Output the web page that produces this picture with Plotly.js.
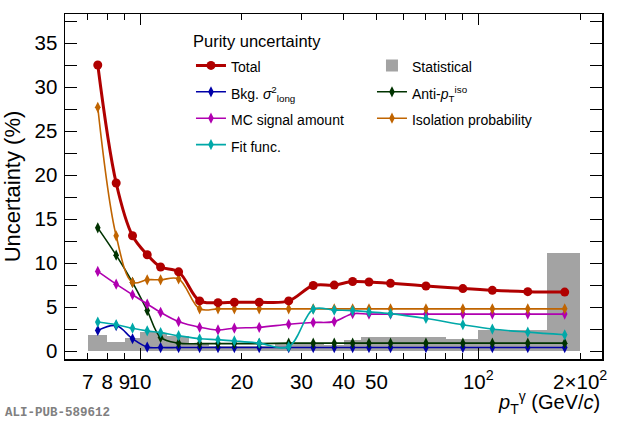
<!DOCTYPE html>
<html>
<head>
<meta charset="utf-8">
<script src="https://cdn.plot.ly/plotly-3.0.1.min.js"></script>
<style>
  body { margin: 0; background: #fff; }
  #main { width: 620px; height: 425px; }
</style>
</head>
<body>
<div id="main"></div>
<script>
// pT bin centres (GeV/c) of the purity uncertainty points
const ptCenters = [7.5, 8.5, 9.5, 10.5, 11.5, 13, 15, 17, 19, 22.5, 27.5, 32.5, 37.5, 42.5, 47.5, 55, 70, 90, 110, 140, 180]

// uncertainties in %
const total = [32.5, 19.1, 13.1, 10.95, 9.55, 9.0, 5.7, 5.5, 5.55, 5.55, 5.7, 7.45, 7.5, 7.9, 7.85, 7.7, 7.4, 7.1, 6.9, 6.75, 6.7]
const bkgSigma = [2.35, 2.9, 1.4, 0.45, 0.4, 0.4, 0.4, 0.4, 0.4, 0.4, 0.4, 0.4, 0.4, 0.4, 0.4, 0.4, 0.4, 0.4, 0.4, 0.4, 0.4]
const antiIso = [14.0, 10.9, 7.8, 4.6, 1.55, 0.9, 0.85, 0.85, 0.85, 0.85, 0.9, 0.9, 0.9, 0.9, 0.9, 0.9, 0.9, 0.9, 0.9, 0.9, 0.9]
const mcSignal = [9.05, 7.6, 6.4, 5.35, 4.4, 3.35, 2.7, 2.4, 2.6, 2.7, 3.05, 3.25, 3.35, 4.25, 4.2, 4.2, 4.2, 4.2, 4.2, 4.2, 4.2]
const isoProb = [27.7, 13.1, 7.8, 8.1, 8.1, 8.2, 4.8, 4.8, 4.8, 4.8, 4.8, 4.8, 4.8, 4.8, 4.8, 4.8, 4.8, 4.8, 4.8, 4.8, 4.8]
const fitFunc = [3.3, 3.0, 2.6, 2.3, 2.1, 1.75, 1.4, 1.3, 1.15, 0.9, 0.5, 4.75, 4.65, 4.6, 4.45, 4.25, 3.7, 3.0, 2.5, 2.15, 1.85]

// statistical uncertainty histogram (bin edges + contents)
const statEdges = [7, 8, 9, 10, 11.5, 12, 14, 16, 20, 25, 30, 35, 40, 45, 60, 80, 100, 160, 200]
const statValues = [1.85, 1.0, 1.45, 2.2, 2.0, 1.7, 0.9, 0.6, 0.6, 0.8, 0.8, 0.7, 1.3, 1.55, 1.6, 1.35, 2.4, 11.2]

// axis ticks
const xTickVals = [7, 8, 9, 10, 20, 30, 40, 50, 100, 200]
const xTickText = ['7', '8', '9', '10', '20', '30', '40', '50', '10<sup>2</sup>', '2\u00d710<sup>2</sup>']
const xMinorTicks = [60, 70, 80, 90]
const xLongTicks = [10, 100]

const FONT = 'Liberation Sans, Arial, Helvetica, sans-serif'
const LEG = (s) => '<span style="font-size:14px">' + s + '</span>'

const statCenters = []
const statWidths = []
statValues.forEach((v, i) => {
  statCenters.push((statEdges[i] + statEdges[i + 1]) / 2)
  statWidths.push(statEdges[i + 1] - statEdges[i])
})

const plotData = []

plotData.push({
  x: statCenters,
  y: statValues,
  width: statWidths,
  type: 'bar',
  name: LEG('Statistical'),
  marker: { color: '#a3a3a3', line: { width: 0 } },
  legendrank: 2,
  hoverinfo: 'skip',
})

const pushLine = (name, ys, color, rank, opts) => {
  plotData.push(Object.assign({
    x: ptCenters,
    y: ys,
    type: 'scatter',
    mode: 'lines+markers',
    name: LEG(name),
    line: { color: color, width: 1.6, shape: 'spline', smoothing: 1 },
    marker: { color: color, symbol: 'diamond-tall', size: 8 },
    legendrank: rank,
  }, opts || {}))
}

pushLine('Bkg. <i>\u03c3</i><sup>2</sup><sub>long</sub>', bkgSigma, '#0000a8', 3)
pushLine('Anti-<i>p</i><sub>T</sub><sup>iso</sup>', antiIso, '#003300', 4)
pushLine('MC signal amount', mcSignal, '#b000b0', 5)
pushLine('Isolation probability', isoProb, '#c06400', 6)
pushLine('Fit func.', fitFunc, '#00a8a8', 7)
pushLine('Total', total, '#b00000', 1, {
  line: { color: '#b00000', width: 3, shape: 'spline', smoothing: 1 },
  marker: { color: '#b00000', symbol: 'circle', size: 9 },
})

// dummy trace on overlaying axis for the long decade ticks
plotData.push({
  x: xLongTicks,
  y: [0, 0],
  xaxis: 'x2',
  type: 'scatter',
  mode: 'none',
  showlegend: false,
  hoverinfo: 'skip',
})

const xRange = [Math.log10(6.0), Math.log10(232)]

Plotly.newPlot('main', plotData, {
  width: 620,
  height: 425,
  margin: { l: 65, r: 18, t: 14, b: 66 },
  paper_bgcolor: '#fff',
  plot_bgcolor: '#fff',
  font: { family: FONT, color: '#000', size: 20 },
  bargap: 0,
  showlegend: true,
  xaxis: {
    type: 'log',
    range: xRange,
    tickmode: 'array',
    tickvals: xTickVals,
    ticktext: xTickText,
    tickangle: 0,
    ticks: 'inside',
    ticklen: 6,
    tickwidth: 1,
    tickcolor: '#000',
    ticklabelstandoff: 4,
    minor: { tickmode: 'array', tickvals: xMinorTicks, ticks: 'inside', ticklen: 6, tickcolor: '#000', showgrid: false },
    showline: true,
    linecolor: '#000',
    linewidth: 1.5,
    mirror: 'allticks',
    showgrid: false,
    zeroline: false,
    tickfont: { size: 20.5 },
  },
  xaxis2: {
    type: 'log',
    range: xRange,
    overlaying: 'x',
    tickmode: 'array',
    tickvals: xLongTicks,
    ticks: 'inside',
    ticklen: 11,
    tickcolor: '#000',
    showticklabels: false,
    showline: false,
    mirror: 'allticks',
    showgrid: false,
    zeroline: false,
  },
  yaxis: {
    range: [-0.9, 38.3],
    tickmode: 'linear',
    tick0: 0,
    dtick: 5,
    ticks: 'inside',
    ticklen: 12,
    tickcolor: '#000',
    ticklabelstandoff: 2,
    minor: { dtick: 2.5, ticks: 'inside', ticklen: 6, tickcolor: '#000' },
    showline: true,
    linecolor: '#000',
    linewidth: 1.5,
    mirror: 'allticks',
    showgrid: false,
    zeroline: false,
    tickfont: { size: 20.5 },
    title: { text: 'Uncertainty (%)', font: { size: 22 }, standoff: 8 },
  },
  legend: {
    orientation: 'h',
    x: 0.2346,
    xanchor: 'left',
    y: 0.966,
    yanchor: 'top',
    bgcolor: 'rgba(0,0,0,0)',
    font: { size: 18 },
    entrywidthmode: 'pixels',
    entrywidth: 136,
    title: { text: 'Purity uncertainty', side: 'top', font: { size: 16.5 } },
  },
  annotations: [
    {
      xref: 'paper', yref: 'paper', x: 1, y: -0.125,
      xanchor: 'right', yanchor: 'middle', showarrow: false,
      text: '<i>p</i><sub>T</sub><sup>\u03b3</sup> (GeV/<i>c</i>)',
      font: { size: 20 },
    },
    {
      xref: 'paper', yref: 'paper', x: -0.1155, y: -0.157,
      xanchor: 'left', yanchor: 'middle', showarrow: false,
      text: '<b>ALI-PUB-589612</b>',
      font: { family: 'Liberation Mono, Courier New, monospace', size: 12.5, color: '#808080' },
    },
  ],
}, { staticPlot: true })
</script>
</body>
</html>
